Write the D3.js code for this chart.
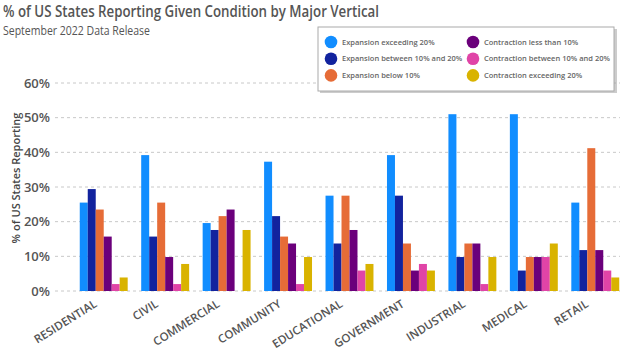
<!DOCTYPE html>
<html>
<head>
<meta charset="utf-8">
<script src="https://cdn.jsdelivr.net/npm/d3@7"></script>
<style>
  body { margin: 0; background: #fff; }
  text { font-family: "Open Sans", "Noto Sans", sans-serif; }
</style>
</head>
<body>
<div id="chart-area"></div>
<script>
// Data (percent of 51 states)
var categories = ["RESIDENTIAL", "CIVIL", "COMMERCIAL", "COMMUNITY", "EDUCATIONAL", "GOVERNMENT", "INDUSTRIAL", "MEDICAL", "RETAIL"];
var seriesNames = ["Expansion exceeding 20%", "Expansion between 10% and 20%", "Expansion below 10%",
                   "Contraction less than 10%", "Contraction between 10% and 20%", "Contraction exceeding 20%"];
var expOver20   = [25.5, 39.2, 19.6, 37.3, 27.5, 39.2, 51.0, 51.0, 25.5];
var exp10to20   = [29.4, 15.7, 17.6, 21.6, 13.7, 27.5,  9.8,  5.9, 11.8];
var expUnder10  = [23.5, 25.5, 21.6, 15.7, 27.5, 13.7, 13.7,  9.8, 41.2];
var conUnder10  = [15.7,  9.8, 23.5, 13.7, 17.6,  5.9, 13.7,  9.8, 11.8];
var con10to20   = [ 2.0,  2.0,  0.0,  2.0,  5.9,  7.8,  2.0,  9.8,  5.9];
var conOver20   = [ 3.9,  7.8, 17.6,  9.8,  7.8,  5.9,  9.8, 13.7,  3.9];
var yTicks = [0, 10, 20, 30, 40, 50, 60];
var colors = ["#118DFF", "#12239E", "#E66C37", "#6B007B", "#E044A7", "#D9B300"];

var seriesValues = [expOver20, exp10to20, expUnder10, conUnder10, con10to20, conOver20];
var data = categories.map(function(c, i) {
    return { name: c, values: seriesValues.map(function(s, j) { return { key: seriesNames[j], value: s[i] }; }) };
});

var width = 624, height = 352;
var svg = d3.select("#chart-area").append("svg")
    .attr("width", width)
    .attr("height", height);

// Title (Segoe-like narrow width)
svg.append("text")
    .attr("x", 3).attr("y", 17)
    .attr("font-size", "15.5px")
    .attr("font-weight", 600)
    .attr("textLength", 376)
    .attr("lengthAdjust", "spacingAndGlyphs")
    .style("fill", "#555")
    .text("% of US States Reporting Given Condition by Major Vertical");
svg.append("text")
    .attr("x", 3).attr("y", 34.5)
    .attr("font-size", "12.5px")
    .attr("textLength", 147)
    .attr("lengthAdjust", "spacingAndGlyphs")
    .style("fill", "#555")
    .text("September 2022 Data Release");

// Scales
var x0 = d3.scaleBand()
    .domain(categories)
    .range([73, 626])
    .paddingInner(0.22)
    .paddingOuter(0.11);

var x1 = d3.scaleBand()
    .domain(seriesNames)
    .range([0, x0.bandwidth()]);

var y = d3.scaleLinear()
    .domain([0, 60])
    .range([291, 83]);

var color = d3.scaleOrdinal()
    .domain(seriesNames)
    .range(colors);

// Gridlines
svg.append("g")
    .selectAll("line")
    .data(yTicks)
    .enter().append("line")
    .attr("x1", 55).attr("x2", 620)
    .attr("y1", function(d) { return y(d); })
    .attr("y2", function(d) { return y(d); })
    .attr("stroke", "#c8c8c8")
    .attr("stroke-width", 1)
    .attr("stroke-dasharray", "3,3");

// Y axis
var leftAxis = d3.axisLeft(y).tickValues(yTicks).tickSize(0).tickPadding(0)
    .tickFormat(function(d) { return d + "%"; });
svg.append("g")
    .attr("class", "left axis")
    .attr("transform", "translate(50, 0)")
    .call(leftAxis)
    .call(function(g) { g.select(".domain").remove(); })
    .selectAll("text")
    .attr("font-family", "Open Sans, sans-serif")
    .attr("font-size", "13px")
    .attr("font-weight", 600)
    .style("fill", "#555");

svg.append("text")
    .attr("transform", "rotate(-90)")
    .attr("x", -178).attr("y", 20)
    .attr("font-size", "11px")
    .attr("font-weight", 600)
    .attr("text-anchor", "middle")
    .style("fill", "#444")
    .text("% of US States Reporting");

// X axis
var bottomAxis = d3.axisBottom(x0).tickSize(0);
svg.append("g")
    .attr("class", "bottom axis")
    .attr("transform", "translate(0, 291)")
    .call(bottomAxis)
    .call(function(g) { g.select(".domain").remove(); })
    .selectAll("text")
    .attr("x", 0).attr("y", 0).attr("dy", 0)
    .attr("text-anchor", "end")
    .attr("font-family", "Open Sans, sans-serif")
    .attr("font-size", "11.5px")
    .attr("font-weight", 600)
    .style("fill", "#555")
    .attr("transform", "translate(-6, 15) rotate(-32)");

// Bars
var groups = svg.append("g").selectAll("g")
    .data(data)
    .enter().append("g")
    .attr("transform", function(d) { return "translate(" + x0(d.name) + ",0)"; });

groups.selectAll("rect")
    .data(function(d) { return d.values; })
    .enter().append("rect")
    .attr("x", function(d) { return x1(d.key); })
    .attr("y", function(d) { return y(d.value); })
    .attr("width", x1.bandwidth())
    .attr("height", function(d) { return y(0) - y(d.value); })
    .attr("fill", function(d) { return color(d.key); });

// Legend
var legend = svg.append("g");
legend.append("rect")
    .attr("x", 320).attr("y", 29).attr("width", 297).attr("height", 64)
    .attr("fill", "#999").attr("opacity", 0.5);
legend.append("rect")
    .attr("x", 318).attr("y", 27).attr("width", 296).attr("height", 64)
    .attr("fill", "#fff").attr("stroke", "#aaa").attr("stroke-width", 1);

var items = legend.selectAll(".item")
    .data(seriesNames)
    .enter().append("g")
    .attr("class", "item")
    .attr("transform", function(d, i) {
        return "translate(" + (i < 3 ? 331 : 473) + "," + (42 + (i % 3) * 16.7) + ")";
    });
items.append("circle")
    .attr("r", 6.3)
    .attr("fill", function(d) { return color(d); });
items.append("text")
    .attr("x", 11).attr("dy", "0.35em")
    .attr("font-size", "7.5px")
    .attr("font-weight", 600)
    .style("fill", "#666")
    .text(function(d) { return d; });
</script>
</body>
</html>
